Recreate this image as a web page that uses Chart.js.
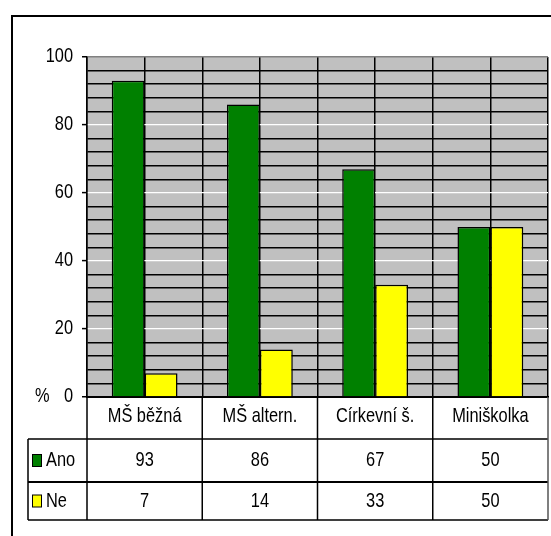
<!DOCTYPE html>
<html><head><meta charset="utf-8">
<script src="https://cdn.jsdelivr.net/npm/chart.js@4"></script>
<style>html,body{margin:0;padding:0;background:#fff}canvas{display:block}</style>
</head><body>
<canvas id="c" width="551" height="536"></canvas>
<script>
// Survey answers by type of kindergarten (percent)
const categories = ['MŠ běžná', 'MŠ altern.', 'Církevní š.', 'Miniškolka'];
const anoValues = [93, 86, 67, 50];
const neValues = [7, 14, 33, 50];
const seriesNames = ['Ano', 'Ne'];
const seriesColors = ['#008000', '#FFFF00'];
const yTickLabels = [0, 20, 40, 60, 80, 100];
const unitLabel = '%';
const yMax = 100;
const majorStep = 20;
const minorStep = 4;

const FONT = '"Liberation Sans", Arial, sans-serif';
const FONT_SIZE = 21;
const NARROW = 0.78; // horizontal squeeze for a narrow typeface look

// half-category slots, used only for the vertical grid lines
const halfSlots = [];
categories.forEach(c => { halfSlots.push(c + ' a'); halfSlots.push(c + ' b'); });

function narrowText(ctx, text, x, y, align) {
  ctx.save();
  ctx.translate(x, y);
  ctx.scale(NARROW, 1);
  ctx.textAlign = align;
  ctx.textBaseline = 'middle';
  ctx.fillText(text, 0, 0);
  ctx.restore();
}

const plotAndTable = {
  id: 'plotAndTable',
  beforeDraw(chart) {
    const { ctx, chartArea: a } = chart;
    ctx.save();
    ctx.fillStyle = '#C0C0C0';
    ctx.fillRect(a.left, a.top, a.right - a.left, a.bottom - a.top);
    ctx.restore();
  },
  afterDraw(chart) {
    const { ctx, chartArea: a } = chart;
    const x = chart.scales.x;
    const y = chart.scales.y;
    const catW = x.getPixelForValue(1) - x.getPixelForValue(0);
    const rowTop = a.bottom;
    const rowAno = rowTop + 42;
    const rowNe = rowAno + 43;
    const rowEnd = rowNe + 38;
    const tableLeft = 28;
    ctx.save();

    // outer chart frame
    ctx.strokeStyle = '#000';
    ctx.lineWidth = 2;
    ctx.strokeRect(12, 16, 600, 600);

    // table grid
    ctx.lineWidth = 1.5;
    ctx.strokeStyle = '#000';
    ctx.beginPath();
    for (let i = 0; i < categories.length; i++) {
      const bx = x.getPixelForValue(i) - catW / 2;
      ctx.moveTo(bx, rowTop); ctx.lineTo(bx, rowEnd);
    }
    ctx.moveTo(tableLeft, rowAno); ctx.lineTo(a.right, rowAno);
    ctx.moveTo(tableLeft, rowEnd); ctx.lineTo(a.right, rowEnd);
    ctx.moveTo(tableLeft, rowAno); ctx.lineTo(tableLeft, rowEnd);
    ctx.stroke();
    ctx.lineWidth = 2.2;
    ctx.beginPath();
    ctx.moveTo(tableLeft, rowNe); ctx.lineTo(a.right, rowNe);
    ctx.stroke();
    ctx.strokeStyle = '#555';
    ctx.lineWidth = 1.5;
    ctx.beginPath();
    ctx.moveTo(a.right, rowTop); ctx.lineTo(a.right, rowEnd);
    ctx.stroke();

    // value axis labels
    ctx.fillStyle = '#000';
    ctx.font = FONT_SIZE + 'px ' + FONT;
    yTickLabels.forEach(v => narrowText(ctx, String(v), a.left - 14, y.getPixelForValue(v) - 1, 'right'));
    narrowText(ctx, unitLabel, 35, y.getPixelForValue(0) - 1, 'left');

    // table text
    const rows = [anoValues, neValues];
    const rowMids = [(rowAno + rowNe) / 2, (rowNe + rowEnd) / 2];
    categories.forEach((c, i) => {
      const cx = x.getPixelForValue(i);
      narrowText(ctx, c, cx, (rowTop + rowAno) / 2 - 2, 'center');
      rows.forEach((r, k) => narrowText(ctx, String(r[i]), cx, rowMids[k], 'center'));
    });

    // legend keys in the table
    seriesNames.forEach((n, k) => {
      const my = rowMids[k];
      ctx.fillStyle = seriesColors[k];
      ctx.fillRect(32.5, my - 6, 9, 12);
      ctx.strokeStyle = '#000';
      ctx.lineWidth = 1;
      ctx.strokeRect(32.5, my - 6, 9, 12);
      ctx.fillStyle = '#000';
      narrowText(ctx, n, 46, my, 'left');
    });
    ctx.restore();
  }
};

new Chart(document.getElementById('c'), {
  type: 'bar',
  data: {
    labels: categories,
    datasets: [
      { label: seriesNames[0], data: anoValues, backgroundColor: seriesColors[0], xAxisID: 'x', yAxisID: 'y' },
      { label: seriesNames[1], data: neValues, backgroundColor: seriesColors[1], xAxisID: 'x', yAxisID: 'y' }
    ]
  },
  options: {
    responsive: false,
    animation: false,
    devicePixelRatio: 1,
    layout: { padding: { left: 0, top: 57, right: 3, bottom: 0 } },
    datasets: {
      bar: {
        categoryPercentage: 0.571,
        barPercentage: 1,
        borderColor: '#000',
        borderWidth: 1.5
      }
    },
    plugins: { legend: { display: false }, tooltip: { enabled: false } },
    scales: {
      x: {
        type: 'category',
        position: 'bottom',
        offset: true,
        grid: { display: false, drawTicks: false },
        border: { display: true, color: '#000', width: 2 },
        ticks: { display: false },
        afterFit(s) { s.height = 139; }
      },
      x2: {
        type: 'category',
        position: 'top',
        labels: halfSlots,
        offset: true,
        grid: {
          offset: true,
          drawTicks: false,
          lineWidth: 1.5,
          color: c => (c.index === halfSlots.length ? '#808080' : '#000')
        },
        border: { display: false },
        ticks: { display: false },
        afterFit(s) { s.height = 0; }
      },
      y: {
        type: 'linear',
        min: 0,
        max: yMax,
        border: { display: true, color: '#000', width: 1.5 },
        grid: {
          drawTicks: true,
          tickLength: 5,
          lineWidth: c => (c.tick && c.tick.value % majorStep === 0 && c.tick.value > 0 && c.tick.value < yMax ? 1.2 : 1.5),
          color: c => {
            const v = c.tick ? c.tick.value : 0;
            if (v === yMax) return '#808080';
            if (v === 0) return '#000';
            return v % majorStep === 0 ? '#FFFFFF' : '#000';
          },
          tickColor: c => (c.tick && c.tick.value % majorStep === 0 ? '#000' : 'rgba(0,0,0,0)'),
          tickWidth: 1.5
        },
        ticks: {
          display: false,
          stepSize: minorStep,
          autoSkip: false
        },
        afterFit(s) { s.width = 87; }
      }
    }
  },
  plugins: [plotAndTable]
});
</script>
</body></html>
